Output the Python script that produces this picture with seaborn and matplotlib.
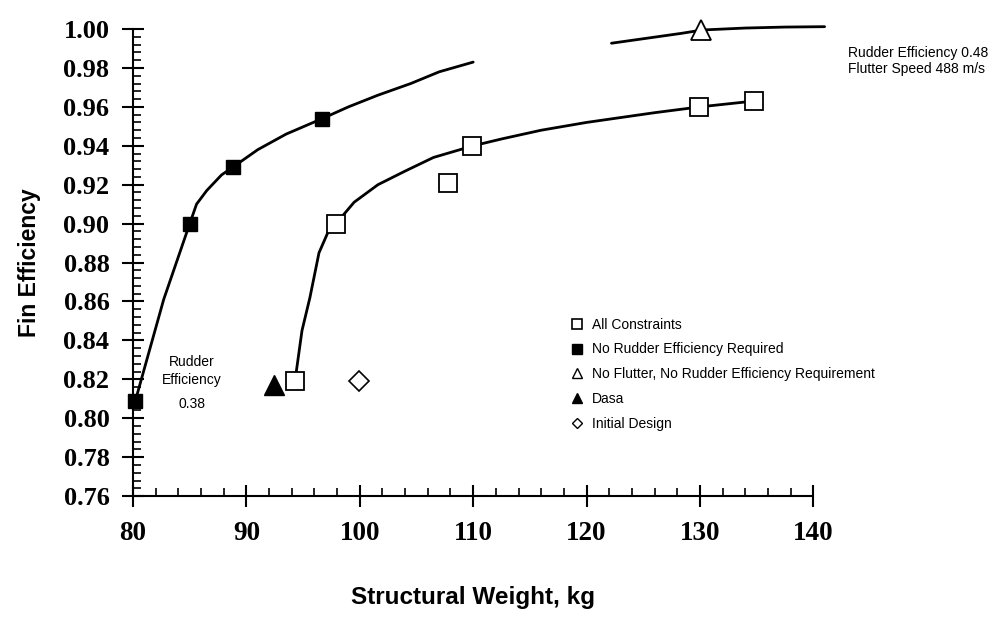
import numpy as np
import pandas as pd
import matplotlib
matplotlib.use("Agg")
import matplotlib.pyplot as plt
import seaborn as sns
from matplotlib.lines import Line2D
from matplotlib.ticker import MultipleLocator, FormatStrFormatter

# points
all_x = [94.3, 97.9, 107.8, 109.9, 129.9, 134.8]
all_y = [0.819, 0.900, 0.921, 0.940, 0.960, 0.963]

norud_x = [80.2, 85.0, 88.8, 96.7]
norud_y = [0.809, 0.900, 0.929, 0.954]

noflut_x = [130.1]
noflut_y = [0.9995]

dasa_x = [92.4]
dasa_y = [0.817]

init_x = [99.9]
init_y = [0.819]

# fitted curves
norud_curve_x = [80.3, 82.7, 85.0, 85.6, 86.5, 87.8, 88.8, 91.0, 93.5, 96.7, 99.0, 101.6, 104.5, 107.0, 110.0]
norud_curve_y = [0.811, 0.861, 0.900, 0.910, 0.917, 0.925, 0.929, 0.938, 0.946, 0.954, 0.960, 0.966, 0.972, 0.978, 0.983]

all_curve_x = [94.4, 94.9, 95.6, 96.4, 97.3, 97.9, 99.5, 101.6, 104.0, 106.5, 110.0, 112.5, 116.0, 120.0, 126.0, 130.0, 134.8]
all_curve_y = [0.824, 0.845, 0.862, 0.885, 0.897, 0.900, 0.911, 0.920, 0.927, 0.934, 0.940, 0.9435, 0.948, 0.952, 0.957, 0.960, 0.963]

noflut_curve_x = [122.2, 125.0, 128.4, 130.2, 134.0, 137.5, 141.0]
noflut_curve_y = [0.9927, 0.995, 0.9978, 0.9995, 1.0005, 1.0010, 1.0012]

sns.set_style("ticks", {"text.color": "black", "axes.labelcolor": "black",
                        "xtick.color": "black", "ytick.color": "black",
                        "axes.edgecolor": "black"})
fig = plt.figure(figsize=(9.93, 6.24), dpi=100)
ax = fig.add_axes([0.134, 0.205, 0.685, 0.7485])

lw = 2.0
for cx, cy in [(norud_curve_x, norud_curve_y), (all_curve_x, all_curve_y),
               (noflut_curve_x, noflut_curve_y)]:
    sns.lineplot(x=cx, y=cy, ax=ax, color="black", lw=lw, sort=False, estimator=None)
for ln in ax.lines:
    ln.set_clip_on(False)

ax.plot(all_x, all_y, ls="none", marker="s", ms=13, mfc="white", mec="black", mew=1.3, zorder=5)
ax.plot(norud_x, norud_y, ls="none", marker="s", ms=10, mfc="black", mec="black", zorder=5, clip_on=False)
ax.plot(noflut_x, noflut_y, ls="none", marker="^", ms=15, mfc="white", mec="black", mew=1.3, zorder=5, clip_on=False)
ax.plot(dasa_x, dasa_y, ls="none", marker="^", ms=15, mfc="black", mec="black", zorder=5)
ax.plot(init_x, init_y, ls="none", marker="D", ms=10, mfc="white", mec="black", mew=1.2, zorder=5)

ax.set_xlim(80, 140)
ax.set_ylim(0.76, 1.00)
ax.xaxis.set_major_locator(MultipleLocator(10))
ax.xaxis.set_minor_locator(MultipleLocator(2))
ax.yaxis.set_major_locator(MultipleLocator(0.02))
ax.yaxis.set_minor_locator(MultipleLocator(0.004))
ax.yaxis.set_major_formatter(FormatStrFormatter("%.2f"))
sns.despine(ax=ax)
for s in ["left", "bottom"]:
    ax.spines[s].set_linewidth(1.5)
ax.tick_params(which="major", direction="inout", length=16, width=1.5)
ax.tick_params(axis="y", which="major", pad=9)
ax.tick_params(axis="x", which="major", pad=10)
ax.tick_params(which="minor", direction="in", length=6, width=1.2)
for lab in ax.get_xticklabels():
    lab.set_fontfamily("Liberation Serif")
    lab.set_fontweight("bold")
    lab.set_fontsize(19.5)
for lab in ax.get_yticklabels():
    lab.set_fontfamily("Liberation Serif")
    lab.set_fontweight("bold")
    lab.set_fontsize(19)

ax.set_xlabel("Structural Weight, kg", fontsize=17.5, fontweight="bold",
              fontfamily="Liberation Sans", labelpad=29)
ax.set_ylabel("Fin Efficiency", fontsize=16.5, fontweight="bold",
              fontfamily="Liberation Sans", labelpad=16)

ax.text(85.2, 0.8243, "Rudder\nEfficiency", ha="center", va="center",
        fontsize=10, fontfamily="Liberation Sans", linespacing=1.3)
ax.text(85.2, 0.8073, "0.38", ha="center", va="center",
        fontsize=10, fontfamily="Liberation Sans")
ax.text(143.1, 0.9835, "Rudder Efficiency 0.48\nFlutter Speed 488 m/s", ha="left",
        va="center", fontsize=10, fontfamily="Liberation Sans", linespacing=1.2)

handles = [
    Line2D([], [], ls="none", marker="s", ms=7, mfc="white", mec="black", mew=1.2),
    Line2D([], [], ls="none", marker="s", ms=7, mfc="black", mec="black"),
    Line2D([], [], ls="none", marker="^", ms=7, mfc="white", mec="black", mew=1.0),
    Line2D([], [], ls="none", marker="^", ms=7, mfc="black", mec="black"),
    Line2D([], [], ls="none", marker="D", ms=5.5, mfc="white", mec="black", mew=1.0),
]
labels = ["All Constraints", "No Rudder Efficiency Required",
          "No Flutter, No Rudder Efficiency Requirement", "Dasa", "Initial Design"]
ax.legend(handles, labels, loc="upper left", bbox_to_anchor=(0.632, 0.397),
          frameon=False, handlelength=1.0, handletextpad=0.6,
          labelspacing=0.78, borderpad=0, prop={"family": "Liberation Sans", "size": 10})

fig.savefig("out.png", dpi=100)
